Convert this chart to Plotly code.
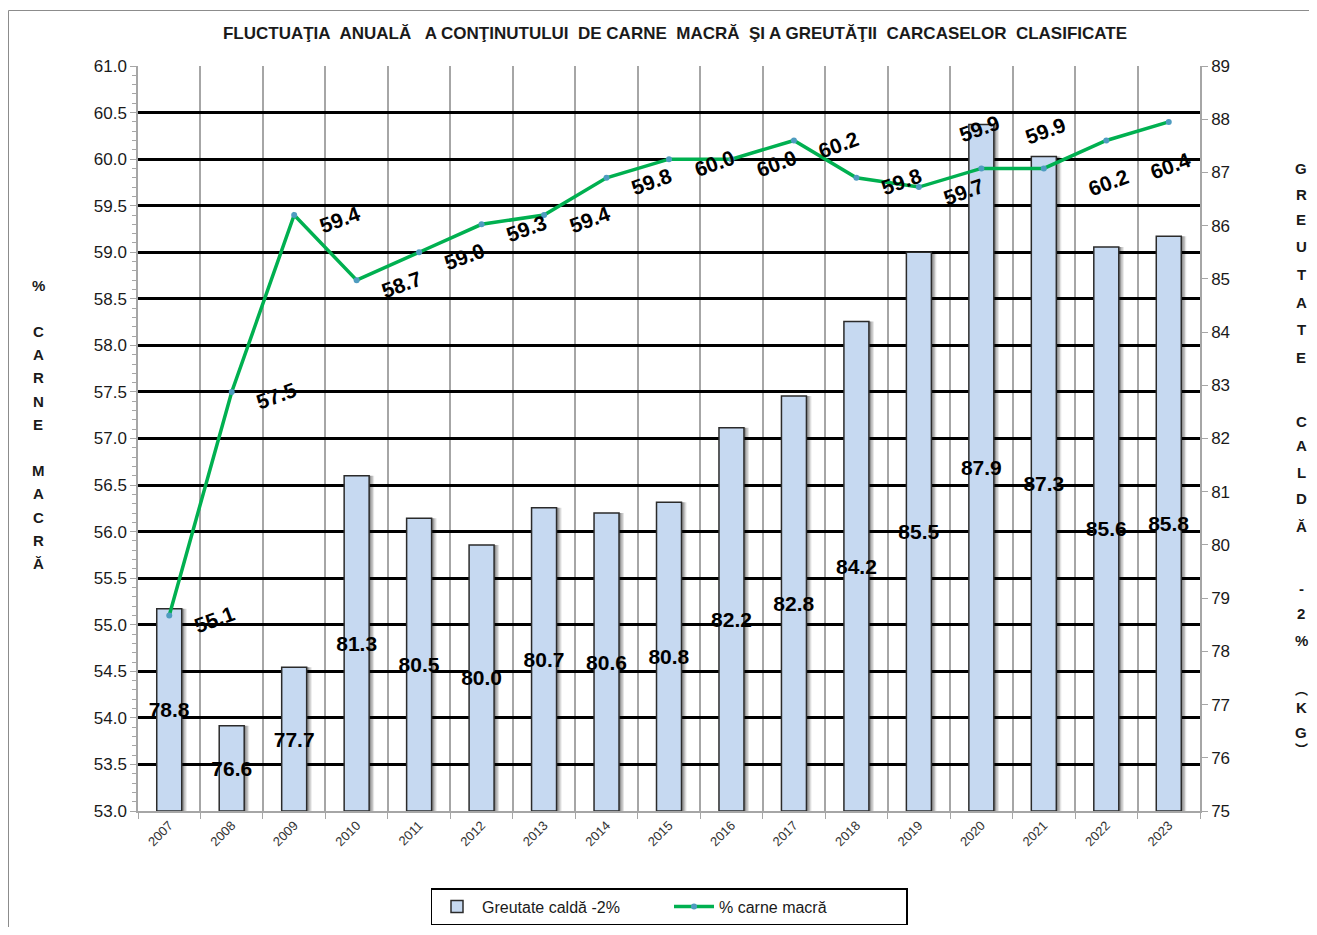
"""Annual fluctuation of lean meat content and carcass weight."""

import plotly.graph_objects as go

YEARS = [str(y) for y in range(2007, 2024)]
LEAN_MEAT = [55.1, 57.5, 59.4, 58.7, 59.0, 59.3, 59.4, 59.8, 60.0,
             60.0, 60.2, 59.8, 59.7, 59.9, 59.9, 60.2, 60.4]
WARM_WEIGHT = [78.8, 76.6, 77.7, 81.3, 80.5, 80.0, 80.7, 80.6, 80.8,
               82.2, 82.8, 84.2, 85.5, 87.9, 87.3, 85.6, 85.8]
WEIGHT_BASE = 75

TITLE = ("FLUCTUAŢIA\u00a0 ANUALĂ\u00a0\u00a0 A CONŢINUTULUI\u00a0 DE CARNE\u00a0 MACRĂ\u00a0 "
         "ŞI A GREUTĂŢII\u00a0 CARCASELOR\u00a0 CLASIFICATE")
LEFT_TITLE = ["%", "", "C", "A", "R", "N", "E", "", "M", "A", "C", "R", "Ă"]
RIGHT_TITLE = ["G", "R", "E", "U", "T", "A", "T", "E", "C", "A", "L", "D", "Ă",
               "-", "2", "%", "︵", "K", "G", "︶"]

# page body adds an 8px offset, so the figure is laid out in page pixels minus that
OX, OY = 8, 8
W, H = 1301, 919
L, T = 138 - OX, 66 - OY
R, B = W - (1200 - OX), H - (811 - OY)
PW, PH = W - L - R, H - T - B


def px(x):
    """page x pixel -> paper fraction"""
    return (x - OX - L) / PW


def py(y):
    """page y pixel -> paper fraction"""
    return (H - B - (y - OY)) / PH


# label offsets for the line values (px): default right of the point
LABEL_SHIFT = {13: (-2, 40), 14: (2, 38), 15: (2, -42), 16: (2, -44)}

TXT = '#1a1a1a'
GRID = '#a6a6a6'
FONT = 'Liberation Sans, Arial, sans-serif'

heights = [v - WEIGHT_BASE for v in WARM_WEIGHT]

fig = go.Figure()

# soft shadow to the right of each bar
for off, alpha in [(-0.12, 0.10), (-0.14, 0.16), (-0.165, 0.22)]:
    fig.add_trace(go.Bar(
        x=YEARS, y=heights, base=WEIGHT_BASE, width=0.4, offset=off,
        marker=dict(color=f'rgba(0,0,0,{alpha})', line=dict(width=0)),
        showlegend=False, hoverinfo='skip', yaxis='y'
    ))

fig.add_trace(go.Bar(
    x=YEARS, y=heights, base=WEIGHT_BASE,
    width=0.4, offset=-0.2,
    name='Greutate caldă -2%',
    marker=dict(color='#c6d9f1', line=dict(color='#2b2b2b', width=1.5)),
    text=[f"{v:.1f}" for v in WARM_WEIGHT],
    textposition='inside', insidetextanchor='middle', textangle=0,
    constraintext='none', cliponaxis=False,
    textfont=dict(family=FONT, size=21, color='black', weight='bold'),
    customdata=WARM_WEIGHT, hovertemplate='%{x}: %{customdata}<extra></extra>',
    yaxis='y'
))

fig.add_trace(go.Scatter(
    x=YEARS, y=LEAN_MEAT, mode='lines+markers',
    name='% carne macră',
    line=dict(color='#00b050', width=3.5),
    marker=dict(color='#4f9cc0', size=6),
    yaxis='y2'
))

annotations = []
for i, v in enumerate(LEAN_MEAT):
    dx, dy = LABEL_SHIFT.get(i, (45, -4))
    annotations.append(dict(
        x=i, y=v, xref='x', yref='y2', text=f"{v:.1f}", showarrow=False,
        xshift=dx, yshift=dy, textangle=-20,
        font=dict(family=FONT, size=21, color='black', weight='bold')
    ))

# stacked vertical axis titles
for k, ch in enumerate(LEFT_TITLE):
    if not ch:
        continue
    annotations.append(dict(
        x=px(38), y=py(285 + k * 23.2), xref='paper', yref='paper',
        text=ch, showarrow=False, xanchor='center', yanchor='middle',
        font=dict(family=FONT, size=15, color=TXT, weight='bold')
    ))
right_y = [168, 194, 220, 247, 274, 302, 330, 358, 421, 446, 472, 498, 526,
           588, 613, 640, 688, 707, 732, 748]
for ch, yy in zip(RIGHT_TITLE, right_y):
    paren = ch in '︵︶'
    annotations.append(dict(
        x=px(1301), y=py(yy), xref='paper', yref='paper',
        text=ch, showarrow=False, xanchor='center', yanchor='middle',
        font=dict(family='Noto Sans CJK SC' if paren else FONT,
                  size=13 if paren else 15, color=TXT, weight='bold')
    ))

fig.update_layout(
    width=W, height=H,
    margin=dict(l=L, r=R, t=T, b=B, autoexpand=False),
    paper_bgcolor='white', plot_bgcolor='white',
    barmode='overlay',
    font=dict(family=FONT, color=TXT),
    title=dict(
        text=TITLE, x=(675 - OX) / W, xanchor='center',
        y=1 - (33 - OY) / H, yanchor='middle',
        font=dict(family='Liberation Sans Narrow, Arial Narrow, sans-serif',
                  size=17, color=TXT, weight='bold')
    ),
    xaxis=dict(
        type='category', tickson='boundaries', showgrid=True,
        gridcolor=GRID, gridwidth=1.5, ticks='outside', ticklen=6,
        tickcolor=GRID, showline=True, linecolor=GRID, linewidth=1.5,
        tickangle=-45, tickfont=dict(size=13, color='#333'),
        range=[-0.5, len(YEARS) - 0.5], automargin=False
    ),
    yaxis=dict(
        side='right', range=[75, 89], dtick=1, showgrid=False,
        ticks='outside', ticklen=6, tickcolor=GRID, showline=True,
        linecolor=GRID, linewidth=1.5, tickfont=dict(size=17, color=TXT),
        zeroline=False, automargin=False
    ),
    yaxis2=dict(
        side='left', overlaying='y', range=[53, 61], dtick=0.5,
        tickformat='.1f', showgrid=True, gridcolor='black', gridwidth=2.5,
        ticks='outside', ticklen=6, tickcolor=GRID, showline=True,
        linecolor=GRID, linewidth=1.5, tickfont=dict(size=17, color=TXT),
        minor=dict(dtick=0.1, ticks='outside', ticklen=4, tickcolor=GRID,
                   showgrid=False),
        zeroline=False, automargin=False
    ),
    legend=dict(
        orientation='h', x=0.5, xanchor='center', y=py(888),
        yanchor='top', bordercolor='black', borderwidth=1.5, bgcolor='white',
        font=dict(size=16, color=TXT), traceorder='normal',
        entrywidth=182, itemwidth=40
    ),
    annotations=annotations,
    shapes=[dict(type='rect', xref='paper', yref='paper',
                 x0=px(8.5), x1=px(1330), y0=py(960), y1=py(10.5),
                 line=dict(color='#8c8c8c', width=1), layer='below')]
)

fig.write_html("out.html")
